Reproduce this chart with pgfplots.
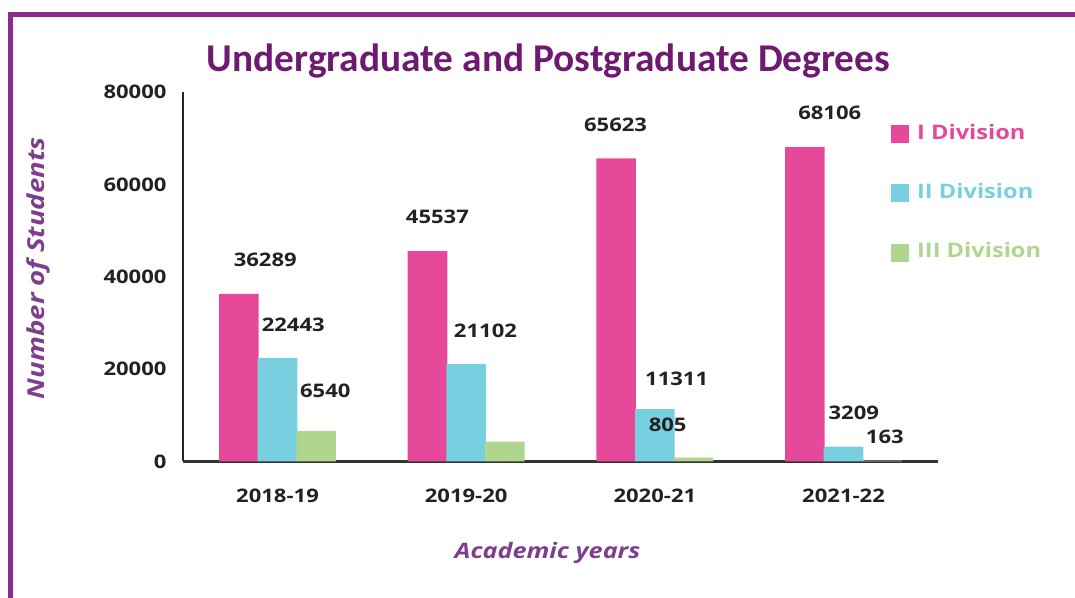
\documentclass[border=0pt]{standalone}
\usepackage{fontspec}
\setmainfont{Open Sans}[FakeStretch=1.18]
\newfontfamily\titlefont{Carlito}
\usepackage{pgfplots}
\pgfplotsset{compat=1.18}
\definecolor{pinkc}{HTML}{E6489A}
\definecolor{bluec}{HTML}{78CFDF}
\definecolor{greenc}{HTML}{B0D58E}
\definecolor{framec}{HTML}{8E2A8C}
\definecolor{titlec}{HTML}{6E1A70}
\definecolor{labc}{HTML}{7D3E8E}
\definecolor{txt}{HTML}{222222}
\begin{document}
\begin{tikzpicture}
\useasboundingbox (-137.25pt,-102pt) rectangle (668.25pt,345.75pt);
\begin{axis}[at={(0pt,0pt)}, anchor=south west, scale only axis,
  width=565.5pt, height=276.75pt,
  xmin=-0.5, xmax=3.5, ymin=0, ymax=80000,
  axis x line=bottom, axis y line=left,
  x axis line style={-, line width=2.2pt, draw=black!80},
  y axis line style={-, line width=1.5pt, draw=black!85},
  ybar, bar width=0.21,
  xtick={0,1,2,3}, xticklabels={2018-19,2019-20,2020-21,2021-22},
  ytick={0,20000,40000,60000,80000},
  major tick length=0pt,
  scaled y ticks=false,
  /pgf/number format/fixed, /pgf/number format/1000 sep={},
  /pgf/number format/assume math mode=true,
  tick label style={font=\bfseries\fontsize{14}{16}\selectfont, text=txt},
  xticklabel style={yshift=-17pt},
  yticklabel style={xshift=-9pt},
  clip=false,
  legend style={at={(axis description cs:0.9377,0.913)}, anchor=north west,
    draw=none, fill=none, inner sep=0pt, row sep=30.5pt,
    nodes={inner sep=0pt, text height=11pt, text depth=3pt},
    font=\bfseries\fontsize{15}{17}\selectfont},
  legend cell align=left,
  /tikz/every odd column/.append style={column sep=6pt},
  legend image code/.code={\path[#1] (0pt,-6.75pt) rectangle (13.5pt,6.75pt);},
]
\addplot[fill=pinkc, draw=none, bar shift=-0.205] coordinates {(0,36289) (1,45537) (2,65623) (3,68106)};
\addlegendentry{\textcolor{pinkc}{I Division}}
\addplot[fill=bluec, draw=none, bar shift=0] coordinates {(0,22443) (1,21102) (2,11311) (3,3209)};
\addlegendentry{\textcolor{bluec}{II Division}}
\addplot[fill=greenc, draw=none, bar shift=0.205] coordinates {(0,6540) (1,4300) (2,805) (3,163)};
\addlegendentry{\textcolor{greenc}{III Division}}
\end{axis}
\begin{scope}[x=0.75pt, y=-0.75pt, xshift=-137.25pt, yshift=345.75pt]
  \draw[framec, line width=3.75pt] (10,600) -- (10,14) -- (1080,14);
  \node[text=titlec, font=\titlefont\bfseries\fontsize{29.5}{33}\selectfont] at (548,61) {Undergraduate and Postgraduate Degrees};
  \node[rotate=90, text=labc, font=\bfseries\itshape\fontsize{17.5}{20}\selectfont] at (38,268) {Number of Students};
  \node[text=labc, font=\bfseries\itshape\fontsize{16}{18}\selectfont] at (547,552) {Academic years};
  \begin{scope}[every node/.style={text=txt, font=\bfseries\fontsize{14}{16}\selectfont}]
    \node at (265,260) {36289};
    \node at (293,325) {22443};
    \node at (325,390) {6540};
    \node at (437,217) {45537};
    \node at (485,331) {21102};
    \node at (615,125) {65623};
    \node at (676,378) {11311};
    \node at (667,424) {805};
    \node at (829,113) {68106};
    \node at (853,412) {3209};
    \node at (884,436) {163};
  \end{scope}
\end{scope}
\end{tikzpicture}
\end{document}
